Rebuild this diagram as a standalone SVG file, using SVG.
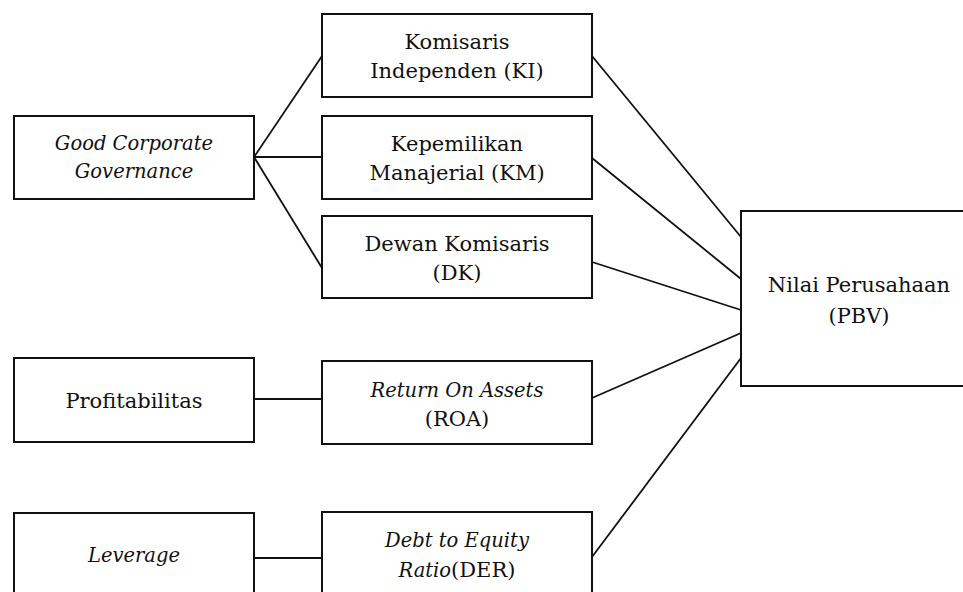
<svg xmlns="http://www.w3.org/2000/svg" width="963" height="592" viewBox="0 0 963 592">
<style>
.box{fill:#fff;stroke:#111;stroke-width:2}
.t{font-family:"DejaVu Serif","Liberation Serif",serif;font-size:21px;fill:#111;text-anchor:middle}
.i{font-style:italic;font-size:19.5px}
.c line{stroke:#111;stroke-width:1.8}
</style>
<rect width="963" height="592" fill="#fff"/>
<g class="c" id="connectors">
<line x1="254" y1="157" x2="322" y2="56"/>
<line x1="254" y1="157" x2="322" y2="157"/>
<line x1="254" y1="157" x2="322" y2="268"/>
<line x1="254" y1="399" x2="322" y2="399"/>
<line x1="254" y1="558" x2="322" y2="558"/>
<line x1="592" y1="56" x2="741" y2="237"/>
<line x1="592" y1="158" x2="741" y2="279"/>
<line x1="592" y1="262" x2="741" y2="310"/>
<line x1="592" y1="398" x2="741" y2="333"/>
<line x1="592" y1="557" x2="741" y2="358"/>
</g>
<g id="gcg"><rect class="box" x="14" y="116" width="240" height="83"/>
<text class="t i" x="134" y="150">Good Corporate</text><text class="t i" x="134" y="178">Governance</text></g>
<g id="ki"><rect class="box" x="322" y="14" width="270" height="83"/>
<text class="t" x="457" y="49">Komisaris</text><text class="t" x="457" y="78">Independen (KI)</text></g>
<g id="km"><rect class="box" x="322" y="116" width="270" height="83"/>
<text class="t" x="457" y="151">Kepemilikan</text><text class="t" x="457" y="180">Manajerial (KM)</text></g>
<g id="dk"><rect class="box" x="322" y="216" width="270" height="82"/>
<text class="t" x="457" y="251">Dewan Komisaris</text><text class="t" x="457" y="280">(DK)</text></g>
<g id="prof"><rect class="box" x="14" y="358" width="240" height="84"/>
<text class="t" x="134" y="408">Profitabilitas</text></g>
<g id="roa"><rect class="box" x="322" y="361" width="270" height="83"/>
<text class="t i" x="457" y="397">Return On Assets</text><text class="t" x="457" y="426">(ROA)</text></g>
<g id="lev"><rect class="box" x="14" y="513" width="240" height="90"/>
<text class="t i" x="134" y="562">Leverage</text></g>
<g id="der"><rect class="box" x="322" y="512" width="270" height="91"/>
<text class="t i" x="457" y="547">Debt to Equity</text><text class="t" x="457" y="577"><tspan class="i">Ratio</tspan>(DER)</text></g>
<g id="pbv"><rect class="box" x="741" y="211" width="240" height="175"/>
<text class="t" x="859" y="292">Nilai Perusahaan</text><text class="t" x="859" y="323">(PBV)</text></g>
</svg>
